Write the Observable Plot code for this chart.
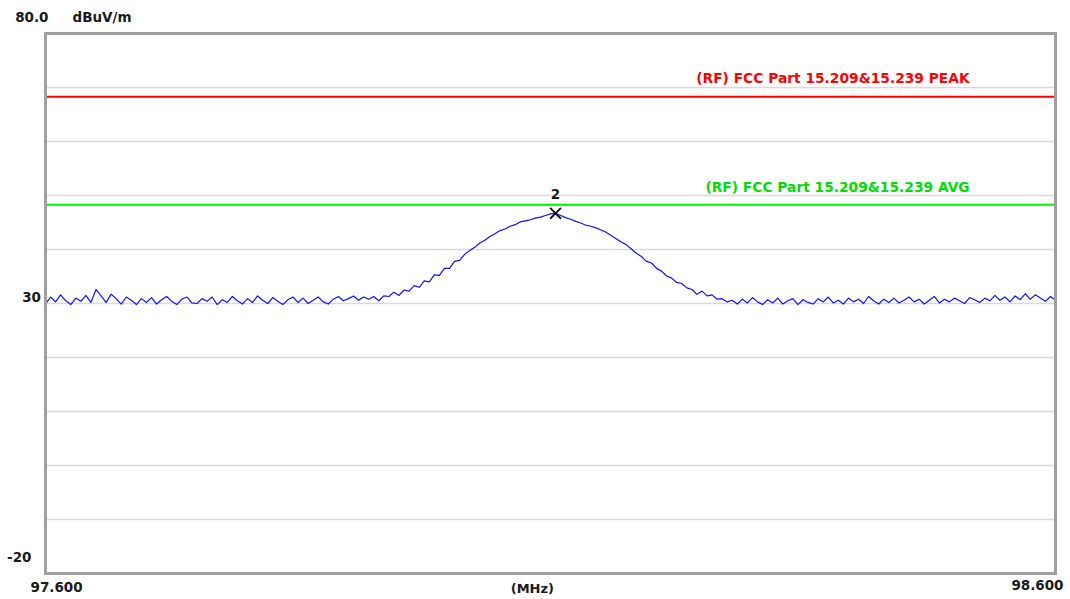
<!DOCTYPE html>
<html>
<head>
<meta charset="utf-8">
<script src="https://cdn.jsdelivr.net/npm/d3@7"></script>
<script src="https://cdn.jsdelivr.net/npm/@observablehq/plot@0.6"></script>
<style>
  html, body { margin: 0; padding: 0; background: #fff; }
  #chart svg { display: block; }
</style>
</head>
<body>
<div id="chart"></div>
<script>
// ---- Data ----
const startFreq = 97.6;   // MHz
const stopFreq = 98.6;    // MHz
const stepFreq = 0.005;   // MHz sweep step

// measured level (dBuV/m), one per sweep step
const levels = [
  29.9, 31.2, 30.3, 31.6, 30.5, 29.8, 31.0, 30.4, 31.5, 30.2,
  32.6, 31.4, 30.2, 31.7, 30.9, 29.9, 31.2, 30.6, 29.8, 30.9,
  30.2, 31.1, 29.9, 30.7, 31.3, 30.4, 29.8, 30.8, 31.2, 30.1,
  30.0, 30.9, 30.4, 31.2, 29.8, 30.7, 30.2, 31.3, 30.5, 29.9,
  30.9, 30.2, 31.4, 30.6, 30.0, 31.1, 30.4, 29.8, 30.7, 31.2,
  30.2, 31.0, 30.0, 30.6, 31.2, 30.3, 29.9, 30.8, 31.3, 30.5,
  30.9, 31.4, 30.6, 31.2,
  30.8, 31.3, 30.5, 31.4, 31.3, 32.1, 31.5, 32.5, 32.3, 33.3,
  33.0, 34.2, 34.0, 35.3, 35.2, 36.5, 36.5, 37.8, 38.0, 39.1,
  39.8, 40.4, 41.2, 41.7, 42.4, 42.9, 43.5, 43.8, 44.3, 44.6,
  45.1, 45.3, 45.5, 45.8, 46.0, 46.3, 46.6, 46.7, 46.3, 45.9,
  45.6, 45.2, 44.9, 44.5, 44.3, 44.0, 43.6, 43.2, 42.6, 42.0,
  41.4, 40.9, 40.1, 39.3, 38.7, 37.8, 37.5, 36.5, 36.0, 35.1,
  34.7, 33.9, 33.7, 32.9, 32.6, 31.7, 32.3, 31.4, 31.6, 30.8,
  30.9, 30.3,
  30.6, 29.9, 30.8, 30.1, 31.1, 30.3, 29.8, 30.7, 30.1, 31.0,
  29.9, 30.5, 30.9, 29.8, 30.7, 30.2, 29.9, 30.9, 30.3, 31.2,
  30.1, 30.6, 29.9, 31.0, 30.3, 30.8, 30.0, 31.3, 30.5, 29.9,
  30.8, 30.2, 31.0, 30.1, 30.6, 31.2, 30.3, 30.8, 29.9, 30.6,
  31.3, 30.1, 30.8, 30.3, 31.0, 30.5, 30.0, 31.1, 30.7, 30.2,
  31.0, 30.5, 31.5, 30.6, 31.2, 30.3, 31.4, 30.7, 31.8, 30.8,
  31.6, 31.0, 30.4, 31.3, 30.6
];

const limitPeak = 68.3;
const limitAvg = 48.3;
const limitPeakLabel = "(RF) FCC Part 15.209&15.239 PEAK";
const limitAvgLabel = "(RF) FCC Part 15.209&15.239 AVG";

const markerFreqs = [98.105];
const markerLevels = [46.7];
const markerNames = ["2"];

const yMin = -20, yMax = 80;
const gridLevels = [70, 60, 50, 40, 30, 20, 10, 0, -10];
const yTickLevels = [80, 30, -20];
const yTickLabels = ["80.0", "30", "-20"];
const yUnit = "dBuV/m";
const xTickLabels = ["97.600", "98.600"];
const xUnit = "(MHz)";

// ---- Build tables ----
const trace = levels.map((v, i) => ({f: startFreq + i * stepFreq, v}));
const markers = markerFreqs.map((f, i) => ({f, v: markerLevels[i], name: markerNames[i]}));
const yTicks = yTickLevels.map((v, i) => ({v, t: yTickLabels[i]}));

const font = "DejaVu Sans";
const txt = "#1a1a1a";
const tickStyle = {fill: txt, fontSize: 13.5, fontWeight: "bold"};

const chart = Plot.plot({
  width: 1070,
  height: 599,
  marginLeft: 45,
  marginRight: 15,
  marginTop: 33,
  marginBottom: 26,
  style: {fontFamily: font, background: "#fff"},
  x: {domain: [startFreq, stopFreq], axis: null},
  y: {domain: [yMin, yMax], axis: null},
  marks: [
    Plot.ruleY(gridLevels, {stroke: "#d9d9d9", strokeWidth: 1.5}),
    Plot.ruleY([limitPeak], {stroke: "#ff0000", strokeWidth: 2}),
    Plot.ruleY([limitAvg], {stroke: "#00ee00", strokeWidth: 2}),
    Plot.text([limitPeakLabel], {x: 98.515, y: limitPeak, text: d => d, textAnchor: "end", dy: -18, fill: "#ff0000", fontSize: 13.8, fontWeight: "bold"}),
    Plot.text([limitAvgLabel], {x: 98.515, y: limitAvg, text: d => d, textAnchor: "end", dy: -17, fill: "#00dd00", fontSize: 13.8, fontWeight: "bold"}),
    Plot.line(trace, {x: "f", y: "v", stroke: "#1010ff", strokeWidth: 1.2}),
    Plot.dot(markers, {x: "f", y: "v", symbol: "times", r: 5, stroke: "#111", strokeWidth: 1.8}),
    Plot.text(markers, {x: "f", y: "v", text: "name", dy: -19, ...tickStyle}),
    Plot.frame({stroke: "#a0a0a0", strokeWidth: 3}),
    // y tick labels
    Plot.text(yTicks.filter(d => d.v === yMax),
      {x: startFreq, y: "v", text: "t", textAnchor: "end", dx: 3, dy: -15.5, ...tickStyle}),
    Plot.text(yTicks.filter(d => d.v === 30),
      {x: startFreq, y: "v", text: "t", textAnchor: "end", dx: -4.5, dy: -5.5, ...tickStyle}),
    Plot.text(yTicks.filter(d => d.v === yMin),
      {x: startFreq, y: "v", text: "t", textAnchor: "end", dx: -14, dy: -16, ...tickStyle}),
    Plot.text([yUnit], {x: startFreq, y: yMax, text: d => d, textAnchor: "start", dx: 27, dy: -15.5, ...tickStyle}),
    // x labels
    Plot.text([xTickLabels[0]], {x: startFreq, y: yMin, text: d => d, textAnchor: "start", dx: -15, dy: 14, ...tickStyle}),
    Plot.text([xTickLabels[1]], {x: stopFreq, y: yMin, text: d => d, textAnchor: "end", dx: 8, dy: 12, ...tickStyle}),
    Plot.text([xUnit], {x: 98.082, y: yMin, text: d => d, dy: 15, fill: txt, fontSize: 13, fontWeight: "bold"})
  ]
});

document.getElementById("chart").appendChild(chart);
</script>
</body>
</html>
